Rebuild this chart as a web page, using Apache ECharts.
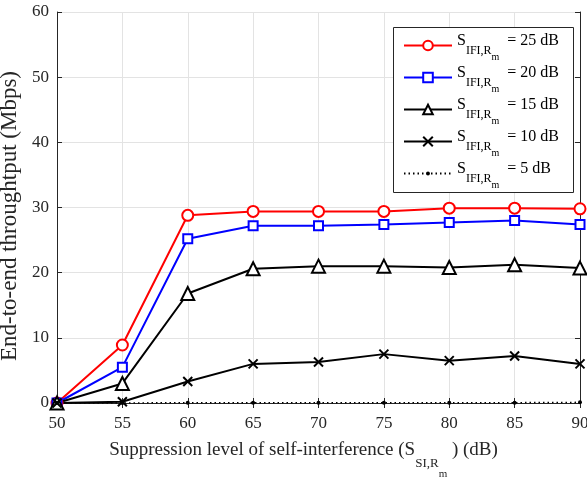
<!DOCTYPE html>
<html><head><meta charset="utf-8">
<script src="https://cdn.jsdelivr.net/npm/echarts@6/dist/echarts.min.js"></script>
<style>html,body{margin:0;padding:0;background:#fff}#c{width:587px;height:477px}</style>
</head><body><div id="c"></div>
<script>
const xValues = [50, 55, 60, 65, 70, 75, 80, 85, 90];
const sifi25 = [0, 8.9, 28.8, 29.4, 29.4, 29.4, 29.9, 29.9, 29.8];
const sifi20 = [0, 5.5, 25.2, 27.2, 27.2, 27.4, 27.7, 28.0, 27.4];
const sifi15 = [0, 3.0, 16.8, 20.6, 21.0, 21.0, 20.8, 21.2, 20.7];
const sifi10 = [0, 0.2, 3.3, 6.0, 6.3, 7.5, 6.5, 7.2, 6.0];
const sifi5  = [0, 0, 0.05, 0.05, 0.05, 0.05, 0.05, 0.05, 0.1];
const legendLabels = ['25', '20', '15', '10', '5'];
const yTicks = [0, 10, 20, 30, 40, 50, 60];

const FONT = '"Liberation Serif", "DejaVu Serif", serif';
const pair = arr => xValues.map((x, i) => [x, arr[i]]);
const names = legendLabels.map(v => 'S_IFI_' + v);
const crossPath = 'path://M0,0L10,10M10,0L0,10';
// small dot inside an invisible 10x10 frame (keeps the legend dot small)
const dotPath = 'path://M0,0L0,0M10,10L10,10M3,5A2,2 0 1,0 7,5A2,2 0 1,0 3,5Z';

const chart = echarts.init(document.getElementById('c'), null, {renderer: 'canvas'});
const mkSeries = (name, data, color, symbol, size, extra) => Object.assign({
  name, type: 'line', data: pair(data), symbol, symbolSize: size,
  showSymbol: true,
  lineStyle: {color, width: 2},
  itemStyle: {color: '#fff', borderColor: color, borderWidth: 2},
  emphasis: {disabled: true}, animation: false
}, extra || {});

const series = [
  mkSeries(names[0], sifi25, '#ff0000', 'circle', 11),
  mkSeries(names[1], sifi20, '#0000ff', 'rect', 9),
  mkSeries(names[2], sifi15, '#000000', 'triangle', 13),
  mkSeries(names[3], sifi10, '#000000', crossPath, 9, {itemStyle: {color: 'none', borderColor: '#000', borderWidth: 2}}),
  mkSeries(names[4], sifi5, '#000000', dotPath, 10, {
    lineStyle: {color: '#000', width: 1.5, type: [1.5, 3]},
    itemStyle: {color: '#000', borderColor: '#000', borderWidth: 0}
  })
];

const richSub = {
  s: {fontFamily: FONT, fontSize: 16, color: '#000', padding: [0, 0, 9, 0]},
  sub: {fontFamily: FONT, fontSize: 12, color: '#000', padding: [10, 0, 0, 0]},
  subsub: {fontFamily: FONT, fontSize: 10, color: '#000', padding: [23, 4, 0, 0]}
};
const legendFmt = n => {
  const v = n.split('_')[2];
  return '{s|S}{sub|IFI,R}{subsub|m}{s| = ' + v + ' dB}';
};

const option = {
  animation: false,
  backgroundColor: '#fff',
  grid: {left: 57, right: 7, top: 12, bottom: 74, containLabel: false, outerBoundsMode: 'none'},
  xAxis: [{
    type: 'value', min: 50, max: 90, interval: 5,
    axisLine: {show: true, lineStyle: {color: '#262626', width: 1}},
    axisTick: {inside: true, length: 5, lineStyle: {color: '#262626'}},
    axisLabel: {fontFamily: FONT, fontSize: 17, color: '#262626', margin: 12},
    splitLine: {show: true, lineStyle: {color: '#e3e3e3', width: 1}},
    name: '{t|Suppression level of self-interference (S}{sub|SI,R}{subsub|m}{t| ) (dB)}',
    nameLocation: 'middle', nameGap: 24,
    nameTextStyle: {padding: [0, 30, 0, 0], rich: {
      t: {fontFamily: FONT, fontSize: 19, color: '#262626', padding: [0, 0, 6, 0]},
      sub: {fontFamily: FONT, fontSize: 13, color: '#262626', padding: [20, 0, 0, 0]},
      subsub: {fontFamily: FONT, fontSize: 11, color: '#262626', padding: [42, 0, 0, 0]}
    }}
  }, {
    type: 'value', min: 50, max: 90, interval: 5, position: 'top',
    axisLine: {show: true, lineStyle: {color: '#262626', width: 1}},
    axisTick: {inside: true, length: 5, lineStyle: {color: '#262626'}},
    axisLabel: {show: false}, splitLine: {show: false}
  }],
  yAxis: [{
    type: 'value', min: 0, max: 60, interval: 10,
    axisLine: {show: true, lineStyle: {color: '#262626', width: 1}},
    axisTick: {inside: true, length: 5, lineStyle: {color: '#262626'}},
    axisLabel: {fontFamily: FONT, fontSize: 17, color: '#262626', margin: 8,
      formatter: v => yTicks.includes(v) ? String(v) : ''},
    splitLine: {show: true, lineStyle: {color: '#e3e3e3', width: 1}},
    name: 'End-to-end throughtput (Mbps)', nameLocation: 'middle', nameGap: 32,
    nameTextStyle: {fontFamily: FONT, fontSize: 23, color: '#262626', padding: [0, 17, 0, 0]}
  }, {
    type: 'value', min: 0, max: 60, interval: 10, position: 'right',
    axisLine: {show: true, lineStyle: {color: '#262626', width: 1}},
    axisTick: {inside: true, length: 5, lineStyle: {color: '#262626'}},
    axisLabel: {show: false}, splitLine: {show: false}
  }],
  graphic: [{
    type: 'rect', left: 393, top: 27, z: 5,
    shape: {width: 180, height: 165},
    style: {fill: '#fff', stroke: '#262626', lineWidth: 1}
  }],
  legend: {
    orient: 'vertical', left: 403, top: 33, padding: 0, itemWidth: 48, itemHeight: 12,
    itemGap: 3, selectedMode: false, formatter: legendFmt, textStyle: {rich: richSub},
    z: 10, data: names
  },
  series
};
chart.setOption(option);
</script></body></html>
